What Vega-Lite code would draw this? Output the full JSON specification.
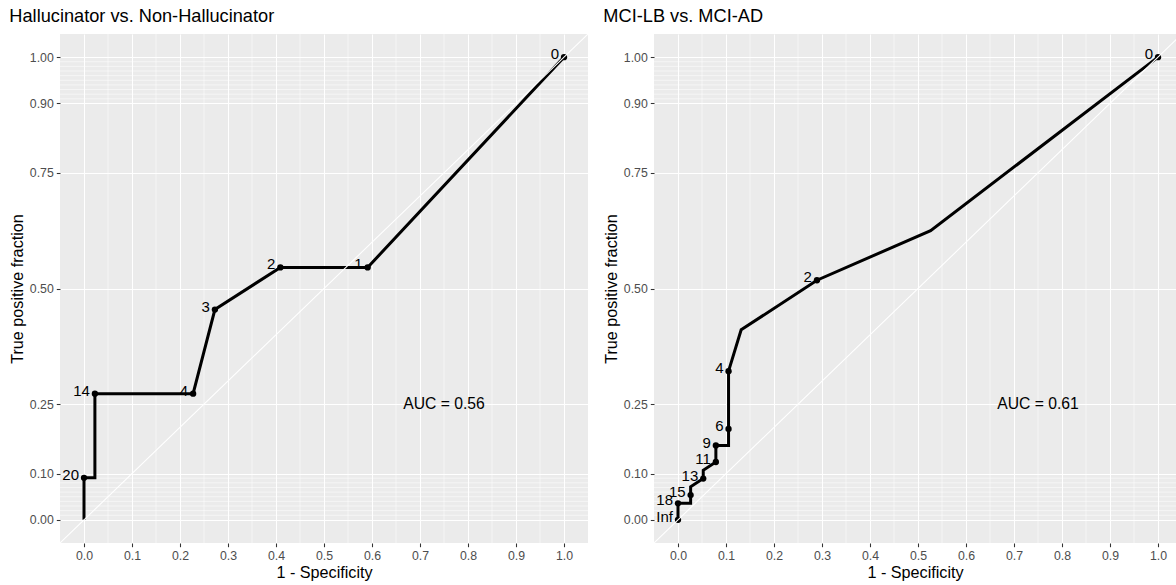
{
  "$schema": "https://vega.github.io/schema/vega-lite/v6.json",
  "background": "white",
  "padding": {"left": 9, "top": 6, "right": 0, "bottom": 0},
  "spacing": 14,
  "config": {
    "font": "Liberation Sans",
    "view": {"fill": "#EBEBEB", "stroke": null},
    "axis": {
      "domain": false, "grid": true, "gridColor": "white", "gridWidth": 1.07,
      "tickColor": "#333333", "tickSize": 3.7, "tickWidth": 1.07,
      "labelColor": "#4D4D4D", "labelFontSize": 12.3, "labelPadding": 3,
      "labelFont": "Liberation Sans", "labelOverlap": false, "labelFlush": false,
      "titleFont": "Liberation Sans", "titleFontSize": 16.2, "titleFontWeight": "normal", "titleColor": "black"
    },
    "axisX": {"titlePadding": 2},
    "axisY": {"titlePadding": 4},
    "title": {"anchor": "start", "fontSize": 18.2, "fontWeight": "normal", "font": "Liberation Sans", "color": "black", "offset": 8},
    "text": {"font": "Liberation Sans"}
  },
  "datasets": {
    "roc": [
      {"panel": "H", "ord": 1, "fpf": 0, "tpf": 0, "cut": null},
      {"panel": "H", "ord": 2, "fpf": 0, "tpf": 0.0909, "cut": "20"},
      {"panel": "H", "ord": 3, "fpf": 0.0227, "tpf": 0.0909, "cut": null},
      {"panel": "H", "ord": 4, "fpf": 0.0227, "tpf": 0.2727, "cut": "14"},
      {"panel": "H", "ord": 5, "fpf": 0.2273, "tpf": 0.2727, "cut": "4"},
      {"panel": "H", "ord": 6, "fpf": 0.2727, "tpf": 0.4545, "cut": "3"},
      {"panel": "H", "ord": 7, "fpf": 0.4091, "tpf": 0.5455, "cut": "2"},
      {"panel": "H", "ord": 8, "fpf": 0.5909, "tpf": 0.5455, "cut": "1"},
      {"panel": "H", "ord": 9, "fpf": 1, "tpf": 1, "cut": "0"},
      {"panel": "M", "ord": 1, "fpf": 0, "tpf": 0, "cut": "Inf"},
      {"panel": "M", "ord": 2, "fpf": 0, "tpf": 0.0357, "cut": "18"},
      {"panel": "M", "ord": 3, "fpf": 0.0263, "tpf": 0.0357, "cut": null},
      {"panel": "M", "ord": 4, "fpf": 0.0263, "tpf": 0.0536, "cut": "15"},
      {"panel": "M", "ord": 5, "fpf": 0.0263, "tpf": 0.0714, "cut": null},
      {"panel": "M", "ord": 6, "fpf": 0.0526, "tpf": 0.0893, "cut": "13"},
      {"panel": "M", "ord": 7, "fpf": 0.0526, "tpf": 0.1071, "cut": null},
      {"panel": "M", "ord": 8, "fpf": 0.0789, "tpf": 0.125, "cut": "11"},
      {"panel": "M", "ord": 9, "fpf": 0.0789, "tpf": 0.1607, "cut": "9"},
      {"panel": "M", "ord": 10, "fpf": 0.1053, "tpf": 0.1607, "cut": null},
      {"panel": "M", "ord": 11, "fpf": 0.1053, "tpf": 0.1964, "cut": "6"},
      {"panel": "M", "ord": 12, "fpf": 0.1053, "tpf": 0.3214, "cut": "4"},
      {"panel": "M", "ord": 13, "fpf": 0.1316, "tpf": 0.4107, "cut": null},
      {"panel": "M", "ord": 14, "fpf": 0.2895, "tpf": 0.5179, "cut": "2"},
      {"panel": "M", "ord": 15, "fpf": 0.5263, "tpf": 0.625, "cut": null},
      {"panel": "M", "ord": 16, "fpf": 1, "tpf": 1, "cut": "0"}
    ],
    "gridx": [
      {"v": 0.05}, {"v": 0.15}, {"v": 0.25}, {"v": 0.35}, {"v": 0.45},
      {"v": 0.55}, {"v": 0.65}, {"v": 0.75}, {"v": 0.85}, {"v": 0.95}
    ],
    "gridy": [
      {"v": 0.01}, {"v": 0.02}, {"v": 0.03}, {"v": 0.04}, {"v": 0.05},
      {"v": 0.06}, {"v": 0.07}, {"v": 0.08}, {"v": 0.09},
      {"v": 0.91}, {"v": 0.92}, {"v": 0.93}, {"v": 0.94}, {"v": 0.95},
      {"v": 0.96}, {"v": 0.97}, {"v": 0.98}, {"v": 0.99}
    ],
    "diag": [{"x1": -0.05, "y1": -0.05, "x2": 1.05, "y2": 1.05}],
    "auc": [
      {"panel": "H", "x": 0.75, "y": 0.25, "label": "AUC = 0.56"},
      {"panel": "M", "x": 0.75, "y": 0.25, "label": "AUC = 0.61"}
    ]
  },
  "hconcat": [
    {
      "width": 528, "height": 509,
      "title": {"text": "Hallucinator vs. Non-Hallucinator"},
      "layer": [
        {"data": {"name": "gridx"}, "mark": {"type": "rule", "stroke": "white", "strokeWidth": 0.53},
         "encoding": {"x": {"field": "v", "type": "quantitative", "scale": {"domain": [-0.05, 1.05], "nice": false, "zero": false}, "axis": {"values": [0, 0.1, 0.2, 0.3, 0.4, 0.5, 0.6, 0.7, 0.8, 0.9, 1], "format": ".1f", "title": "1 - Specificity"}}}},
        {"data": {"name": "gridy"}, "mark": {"type": "rule", "stroke": "white", "strokeWidth": 0.53},
         "encoding": {"y": {"field": "v", "type": "quantitative", "scale": {"domain": [-0.05, 1.05], "nice": false, "zero": false}, "axis": {"values": [0, 0.1, 0.25, 0.5, 0.75, 0.9, 1], "format": ".2f", "title": "True positive fraction"}}}},
        {"data": {"name": "roc"}, "transform": [{"filter": "datum.panel === 'H'"}],
         "mark": {"type": "line", "color": "black", "strokeWidth": 3},
         "encoding": {
           "x": {"field": "fpf", "type": "quantitative", "scale": {"domain": [-0.05, 1.05], "nice": false, "zero": false}, "axis": {"values": [0, 0.1, 0.2, 0.3, 0.4, 0.5, 0.6, 0.7, 0.8, 0.9, 1], "format": ".1f", "title": "1 - Specificity"}},
           "y": {"field": "tpf", "type": "quantitative", "scale": {"domain": [-0.05, 1.05], "nice": false, "zero": false}, "axis": {"values": [0, 0.1, 0.25, 0.5, 0.75, 0.9, 1], "format": ".2f", "title": "True positive fraction"}},
           "order": {"field": "ord", "type": "quantitative"}}},
        {"data": {"name": "roc"}, "transform": [{"filter": "datum.panel === 'H' && isValid(datum.cut)"}],
         "mark": {"type": "point", "filled": true, "color": "black", "opacity": 1, "size": 40},
         "encoding": {
           "x": {"field": "fpf", "type": "quantitative"},
           "y": {"field": "tpf", "type": "quantitative"}}},
        {"data": {"name": "roc"}, "transform": [{"filter": "datum.panel === 'H' && isValid(datum.cut)"}],
         "mark": {"type": "text", "align": "right", "baseline": "alphabetic", "dx": -5, "dy": 2, "fontSize": 15, "color": "black"},
         "encoding": {
           "x": {"field": "fpf", "type": "quantitative"},
           "y": {"field": "tpf", "type": "quantitative"},
           "text": {"field": "cut"}}},
        {"data": {"name": "diag"}, "mark": {"type": "rule", "stroke": "white", "strokeWidth": 1.07, "clip": true},
         "encoding": {
           "x": {"field": "x1", "type": "quantitative"},
           "y": {"field": "y1", "type": "quantitative"},
           "x2": {"field": "x2"}, "y2": {"field": "y2"}}},
        {"data": {"name": "auc"}, "transform": [{"filter": "datum.panel === 'H'"}],
         "mark": {"type": "text", "align": "center", "baseline": "middle", "fontSize": 15.7, "color": "black"},
         "encoding": {
           "x": {"field": "x", "type": "quantitative"},
           "y": {"field": "y", "type": "quantitative"},
           "text": {"field": "label"}}}
      ]
    },
    {
      "width": 522, "height": 509,
      "title": {"text": "MCI-LB vs. MCI-AD"},
      "layer": [
        {"data": {"name": "gridx"}, "mark": {"type": "rule", "stroke": "white", "strokeWidth": 0.53},
         "encoding": {"x": {"field": "v", "type": "quantitative", "scale": {"domain": [-0.05, 1.0375], "nice": false, "zero": false}, "axis": {"values": [0, 0.1, 0.2, 0.3, 0.4, 0.5, 0.6, 0.7, 0.8, 0.9, 1], "format": ".1f", "title": "1 - Specificity"}}}},
        {"data": {"name": "gridy"}, "mark": {"type": "rule", "stroke": "white", "strokeWidth": 0.53},
         "encoding": {"y": {"field": "v", "type": "quantitative", "scale": {"domain": [-0.05, 1.05], "nice": false, "zero": false}, "axis": {"values": [0, 0.1, 0.25, 0.5, 0.75, 0.9, 1], "format": ".2f", "title": "True positive fraction"}}}},
        {"data": {"name": "roc"}, "transform": [{"filter": "datum.panel === 'M'"}],
         "mark": {"type": "line", "color": "black", "strokeWidth": 3},
         "encoding": {
           "x": {"field": "fpf", "type": "quantitative", "scale": {"domain": [-0.05, 1.0375], "nice": false, "zero": false}, "axis": {"values": [0, 0.1, 0.2, 0.3, 0.4, 0.5, 0.6, 0.7, 0.8, 0.9, 1], "format": ".1f", "title": "1 - Specificity"}},
           "y": {"field": "tpf", "type": "quantitative", "scale": {"domain": [-0.05, 1.05], "nice": false, "zero": false}, "axis": {"values": [0, 0.1, 0.25, 0.5, 0.75, 0.9, 1], "format": ".2f", "title": "True positive fraction"}},
           "order": {"field": "ord", "type": "quantitative"}}},
        {"data": {"name": "roc"}, "transform": [{"filter": "datum.panel === 'M' && isValid(datum.cut)"}],
         "mark": {"type": "point", "filled": true, "color": "black", "opacity": 1, "size": 40},
         "encoding": {
           "x": {"field": "fpf", "type": "quantitative"},
           "y": {"field": "tpf", "type": "quantitative"}}},
        {"data": {"name": "roc"}, "transform": [{"filter": "datum.panel === 'M' && isValid(datum.cut)"}],
         "mark": {"type": "text", "align": "right", "baseline": "alphabetic", "dx": -5, "dy": 2, "fontSize": 15, "color": "black"},
         "encoding": {
           "x": {"field": "fpf", "type": "quantitative"},
           "y": {"field": "tpf", "type": "quantitative"},
           "text": {"field": "cut"}}},
        {"data": {"name": "diag"}, "mark": {"type": "rule", "stroke": "white", "strokeWidth": 1.07, "clip": true},
         "encoding": {
           "x": {"field": "x1", "type": "quantitative"},
           "y": {"field": "y1", "type": "quantitative"},
           "x2": {"field": "x2"}, "y2": {"field": "y2"}}},
        {"data": {"name": "auc"}, "transform": [{"filter": "datum.panel === 'M'"}],
         "mark": {"type": "text", "align": "center", "baseline": "middle", "fontSize": 15.7, "color": "black"},
         "encoding": {
           "x": {"field": "x", "type": "quantitative"},
           "y": {"field": "y", "type": "quantitative"},
           "text": {"field": "label"}}}
      ]
    }
  ]
}
